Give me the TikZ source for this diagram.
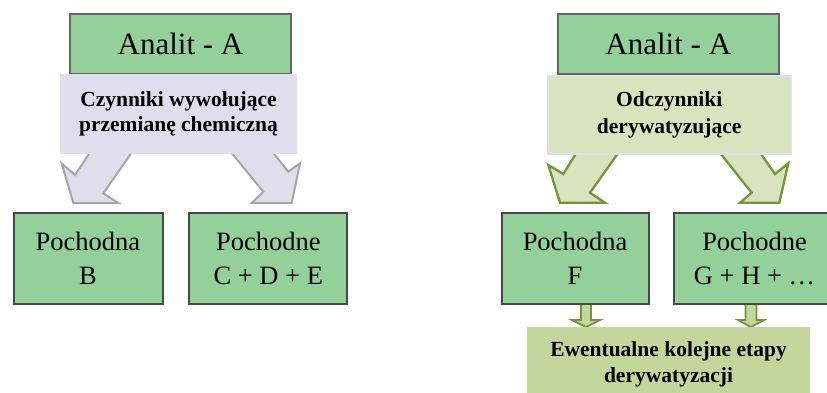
\documentclass[tikz,border=0pt]{standalone}
\usepackage{fontspec}
\setmainfont{Liberation Serif}
\begin{document}
\begin{tikzpicture}[x=1pt,y=-1pt,
  abox/.style={draw=bdl,fill=gr,line width=2pt,minimum width=221pt,minimum height=60pt,inner sep=0pt,font=\fontsize{31}{36}\selectfont},
  pbox/.style={draw=bd,fill=gr,line width=2pt,minimum width=#1,minimum height=91pt,inner sep=0pt,align=center,font=\fontsize{26.5}{34}\selectfont},
  rbox/.style={minimum height=80pt,inner sep=0pt,align=center,font=\fontsize{21.5}{25}\selectfont\bfseries},
  lavarrow/.style={fill=lav,draw=lavd,line width=2pt},
  olarrow/.style={fill=lg,draw=ol,line width=2.3pt},
  smallarrow/.style={fill=olf,draw=ol,line width=1.8pt}]
  \definecolor{gr}{HTML}{93D09A}
  \definecolor{bd}{HTML}{484848}
  \definecolor{bdl}{HTML}{666666}
  \definecolor{lav}{HTML}{E0DDEC}
  \definecolor{lavd}{HTML}{A6A6A6}
  \definecolor{lg}{HTML}{D7E4BD}
  \definecolor{ol}{HTML}{77933C}
  \definecolor{olf}{HTML}{C3D69B}
  \useasboundingbox (0,0) rectangle (827,392);
  % left: chemical transformation
  \filldraw[lavarrow] (93,148) -- (75,175) -- (61.7,163.3) -- (73.3,203) -- (118.3,203) -- (103.3,193.3) -- (134.9,148) -- cycle;
  \filldraw[lavarrow] (227.6,148) -- (263.3,191.7) -- (251.7,203) -- (291.7,203) -- (300,163.3) -- (288.3,171.7) -- (269.4,148) -- cycle;
  \node[abox] (anL) at (180.5,44) {Analit - A};
  \node[rbox,fill=lav,minimum width=237pt] (czL) at (178.5,114) {Czynniki wywołujące\\przemianę chemiczną};
  \node[pbox=149pt] (pB) at (88,258) {Pochodna\\B};
  \node[pbox=158pt] (pC) at (268.3,258) {Pochodne\\C + D + E};
  % right: derivatization
  \filldraw[olarrow] (579.3,148) -- (563.3,174) -- (548.3,165) -- (560,202.7) -- (605,202.7) -- (590,192.7) -- (621.7,148) -- cycle;
  \filldraw[olarrow] (716.1,148) -- (751.7,192.7) -- (740,202.7) -- (779.3,202.7) -- (788.3,163.3) -- (775,174) -- (756.8,148) -- cycle;
  \node[abox] (anR) at (668.3,44) {Analit - A};
  \node[rbox,fill=lg,draw=lav,line width=2pt,minimum width=243pt,minimum height=78pt,font=\fontsize{21.5}{26.5}\selectfont\bfseries] (odR) at (669.2,115) {Odczynniki\\derywatyzujące};
  % further steps
  \filldraw[smallarrow] (581,298) -- (581,320) -- (572,320) -- (586,327) -- (600,320) -- (591,320) -- (591,298) -- cycle;
  \filldraw[smallarrow] (745.5,298) -- (745.5,320) -- (738,320) -- (751,327) -- (764,320) -- (756.5,320) -- (756.5,298) -- cycle;
  \node[pbox=147pt] (pF) at (575,258) {Pochodna\\F};
  \node[pbox=161pt] (pG) at (754.5,258) {Pochodne\\G + H + …};
  \node[rbox,fill=olf,minimum width=283pt,minimum height=75pt,font=\fontsize{21.5}{26}\selectfont\bfseries] (ew) at (668.5,364.5) {Ewentualne kolejne etapy\\derywatyzacji};
\end{tikzpicture}
\end{document}
